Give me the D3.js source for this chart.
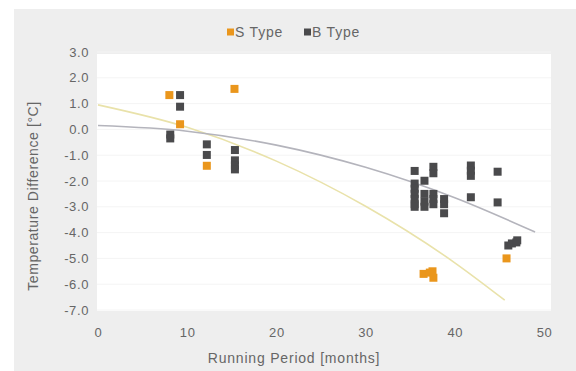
<!DOCTYPE html>
<html>
<head>
<meta charset="utf-8">
<script src="https://cdn.jsdelivr.net/npm/d3@7"></script>
<style>
  body { margin: 0; background: #fff; }
  text { font-family: "Liberation Sans", Arial, sans-serif; fill: #666; }
</style>
</head>
<body>
<div id="chart"></div>
<script>
// S Type points
var sX = [8.0, 9.2, 12.2, 15.3, 36.5, 37.2, 37.5, 37.6, 45.8];
var sY = [1.33, 0.2, -1.41, 1.57, -5.6, -5.55, -5.5, -5.75, -5.0];

// B Type points
var bX = [9.2, 9.2, 8.1, 8.1, 12.2, 12.2, 15.35, 15.35, 15.35, 15.35,
          35.5, 35.5, 35.5, 35.5, 35.5, 35.5, 35.5,
          36.6, 36.6, 36.6, 36.6,
          37.6, 37.6, 37.6, 37.6, 37.6,
          38.8, 38.8, 38.8,
          41.8, 41.8, 41.8, 41.8,
          44.8, 44.8,
          46.0, 46.4, 46.9, 47.0];
var bY = [1.33, 0.88, -0.2, -0.35, -0.58, -0.99, -0.8, -1.2, -1.4, -1.55,
          -1.61, -2.1, -2.3, -2.5, -2.7, -2.9, -3.0,
          -1.99, -2.5, -2.8, -3.0,
          -1.45, -1.7, -2.5, -2.7, -2.9,
          -2.7, -2.9, -3.25,
          -1.4, -1.6, -1.8, -2.63,
          -1.64, -2.83,
          -4.5, -4.42, -4.38, -4.3];

// trend lines
var sTrendX = [0, 10, 20, 30, 40, 45.6];
var sTrendY = [0.95, 0.08, -1.23, -2.98, -5.17, -6.62];
var bTrendX = [0, 10, 20, 30, 40, 49];
var bTrendY = [0.15, -0.07, -0.61, -1.47, -2.65, -3.98];

var xTicks = [0, 10, 20, 30, 40, 50];
var yTicks = [3, 2, 1, 0, -1, -2, -3, -4, -5, -6, -7];

var W = 576, H = 371;
var orange = "#ea961c", dark = "#4a4a4c";

var svg = d3.select("#chart").append("svg")
  .attr("width", W).attr("height", H);

// grey card
svg.append("rect")
  .attr("x", 14).attr("y", 9)
  .attr("width", W - 14).attr("height", H - 9)
  .attr("fill", "#eeeeee");

var x = d3.scaleLinear().domain([0, 50]).range([98, 544]);
var y = d3.scaleLinear().domain([-7, 3]).range([310, 52]);

// plot area
svg.append("rect")
  .attr("x", 97).attr("y", 54)
  .attr("width", 454).attr("height", 257)
  .attr("fill", "#ffffff");

// faint gridlines
svg.append("g").selectAll("line")
  .data(yTicks)
  .join("line")
  .attr("x1", 97).attr("x2", 551)
  .attr("y1", d => y(d)).attr("y2", d => y(d))
  .attr("stroke", "#f4f4f4");

// y axis labels
var yAxis = svg.append("g")
  .attr("transform", "translate(96,0)")
  .call(d3.axisLeft(y).tickValues(yTicks).tickSize(0).tickPadding(7));
yAxis.select(".domain").remove();
yAxis.selectAll("text")
  .attr("fill", "#666")
  .style("font-size", "13px")
  .style("letter-spacing", "0.6px")
  .text(d => d.toFixed(1));

// x axis labels
var xAxis = svg.append("g")
  .attr("transform", "translate(0,322)")
  .call(d3.axisBottom(x).tickValues(xTicks).tickSize(0).tickPadding(6));
xAxis.select(".domain").remove();
xAxis.selectAll("text")
  .attr("fill", "#666")
  .style("font-size", "13px")
  .style("letter-spacing", "0.6px");

// titles
svg.append("text")
  .attr("x", 294).attr("y", 363)
  .attr("text-anchor", "middle")
  .style("font-size", "14px")
  .style("letter-spacing", "0.8px")
  .text("Running Period [months]");

svg.append("text")
  .attr("transform", "translate(38,196) rotate(-90)")
  .attr("text-anchor", "middle")
  .style("font-size", "14px")
  .style("letter-spacing", "0.6px")
  .text("Temperature Difference [°C]");

// trend lines
var line = d3.line().curve(d3.curveMonotoneX);
svg.append("path")
  .attr("d", line(sTrendX.map((d, i) => [x(d), y(sTrendY[i])])))
  .attr("fill", "none")
  .attr("stroke", "#e9e2aa")
  .attr("stroke-width", 1.6);
svg.append("path")
  .attr("d", line(bTrendX.map((d, i) => [x(d), y(bTrendY[i])])))
  .attr("fill", "none")
  .attr("stroke", "#b4b4bc")
  .attr("stroke-width", 1.6);

// markers
var sz = 8;
svg.append("g").selectAll("rect")
  .data(bX)
  .join("rect")
  .attr("x", (d) => x(d) - sz / 2)
  .attr("y", (d, i) => y(bY[i]) - sz / 2)
  .attr("width", sz).attr("height", sz)
  .attr("fill", dark);

svg.append("g").selectAll("rect")
  .data(sX)
  .join("rect")
  .attr("x", (d) => x(d) - sz / 2)
  .attr("y", (d, i) => y(sY[i]) - sz / 2)
  .attr("width", sz).attr("height", sz)
  .attr("fill", orange);

// legend
var legend = [
  {name: "S Type", color: orange, x: 227},
  {name: "B Type", color: dark, x: 304}
];
var lg = svg.append("g").selectAll("g")
  .data(legend)
  .join("g")
  .attr("transform", d => "translate(" + d.x + ",32)");
lg.append("rect")
  .attr("x", 0).attr("y", -3.5)
  .attr("width", 7).attr("height", 7)
  .attr("fill", d => d.color);
lg.append("text")
  .attr("x", 8).attr("y", 5)
  .style("font-size", "14px")
  .style("letter-spacing", "0.8px")
  .text(d => d.name);
</script>
</body>
</html>
